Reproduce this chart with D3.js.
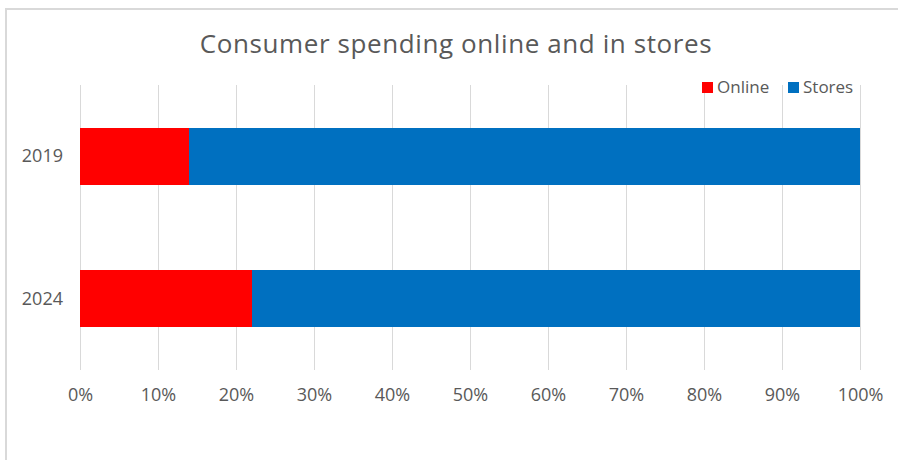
<!DOCTYPE html>
<html>
<head>
<meta charset="utf-8">
<script src="https://cdn.jsdelivr.net/npm/d3@7"></script>
<style>
  html, body { margin: 0; padding: 0; background: #fff; }
  svg { display: block; }
  text { font-family: "Open Sans", sans-serif; fill: #595959; }
</style>
</head>
<body>
<script>
// Share of consumer spending by channel, per year (percent)
const years = ["2019", "2024"];
const online = [14, 22];
const stores = [86, 78];
const seriesNames = ["Online", "Stores"];
const seriesColors = ["#ff0000", "#0070c0"];
const tickValues = [0, 10, 20, 30, 40, 50, 60, 70, 80, 90, 100];

const W = 898, H = 460;
const svg = d3.select("body").append("svg").attr("width", W).attr("height", H);

// outer frame (top and left edges)
svg.append("path")
  .attr("d", `M6,${H} L6,9 L${W},9`)
  .attr("fill", "none")
  .attr("stroke", "#d9d9d9")
  .attr("stroke-width", 2);

const plot = { left: 80, right: 860, top: 85, bottom: 370 };

const x = d3.scaleLinear().domain([0, 100]).range([plot.left, plot.right]);
const y = d3.scaleBand().domain(years).range([plot.top, plot.bottom])
  .paddingInner(0.6).paddingOuter(0.3);

// vertical gridlines
svg.append("g").selectAll("line").data(tickValues).join("line")
  .attr("x1", d => x(d)).attr("x2", d => x(d))
  .attr("y1", plot.top).attr("y2", plot.bottom)
  .attr("stroke", "#d9d9d9").attr("stroke-width", 1)
  .attr("shape-rendering", "crispEdges");

// stacked bars
const rows = years.map((yr, i) => ({ year: yr, Online: online[i], Stores: stores[i] }));
const stacked = d3.stack().keys(seriesNames)(rows);
const color = d3.scaleOrdinal().domain(seriesNames).range(seriesColors);

svg.append("g").selectAll("g").data(stacked).join("g")
  .attr("fill", d => color(d.key))
  .selectAll("rect").data(d => d).join("rect")
  .attr("x", d => x(d[0]))
  .attr("width", d => x(d[1]) - x(d[0]))
  .attr("y", d => y(d.data.year))
  .attr("height", y.bandwidth())
  .attr("shape-rendering", "crispEdges");

// x axis labels
const xAxis = d3.axisBottom(x).tickValues(tickValues).tickFormat(d => d + "%").tickSize(0).tickPadding(0);
const gx = svg.append("g").attr("transform", `translate(0,${plot.bottom})`).call(xAxis);
gx.select(".domain").remove();
gx.selectAll("text")
  .attr("y", 25).attr("dy", "0.35em")
  .style("font-family", "\"Open Sans\", sans-serif")
  .style("font-size", "18px").style("fill", "#595959");

// y axis labels
const yAxis = d3.axisLeft(y).tickSize(0).tickPadding(0);
const gy = svg.append("g").attr("transform", `translate(${plot.left},0)`).call(yAxis);
gy.select(".domain").remove();
gy.selectAll("text")
  .attr("x", -17)
  .style("font-family", "\"Open Sans\", sans-serif")
  .style("font-size", "18px").style("fill", "#595959");

// title
svg.append("text")
  .attr("x", 456).attr("y", 53)
  .attr("text-anchor", "middle")
  .style("font-size", "26px")
  .style("letter-spacing", "0.6px")
  .text("Consumer spending online and in stores");

// legend
const legendX = [702, 788];
const lg = svg.append("g").selectAll("g").data(seriesNames).join("g")
  .attr("transform", (d, i) => `translate(${legendX[i]},82)`);
lg.append("rect").attr("width", 11).attr("height", 11).attr("fill", d => color(d));
lg.append("text").attr("x", 15).attr("y", 5.5).attr("dy", "0.35em")
  .style("font-size", "17px").text(d => d);
</script>
</body>
</html>
